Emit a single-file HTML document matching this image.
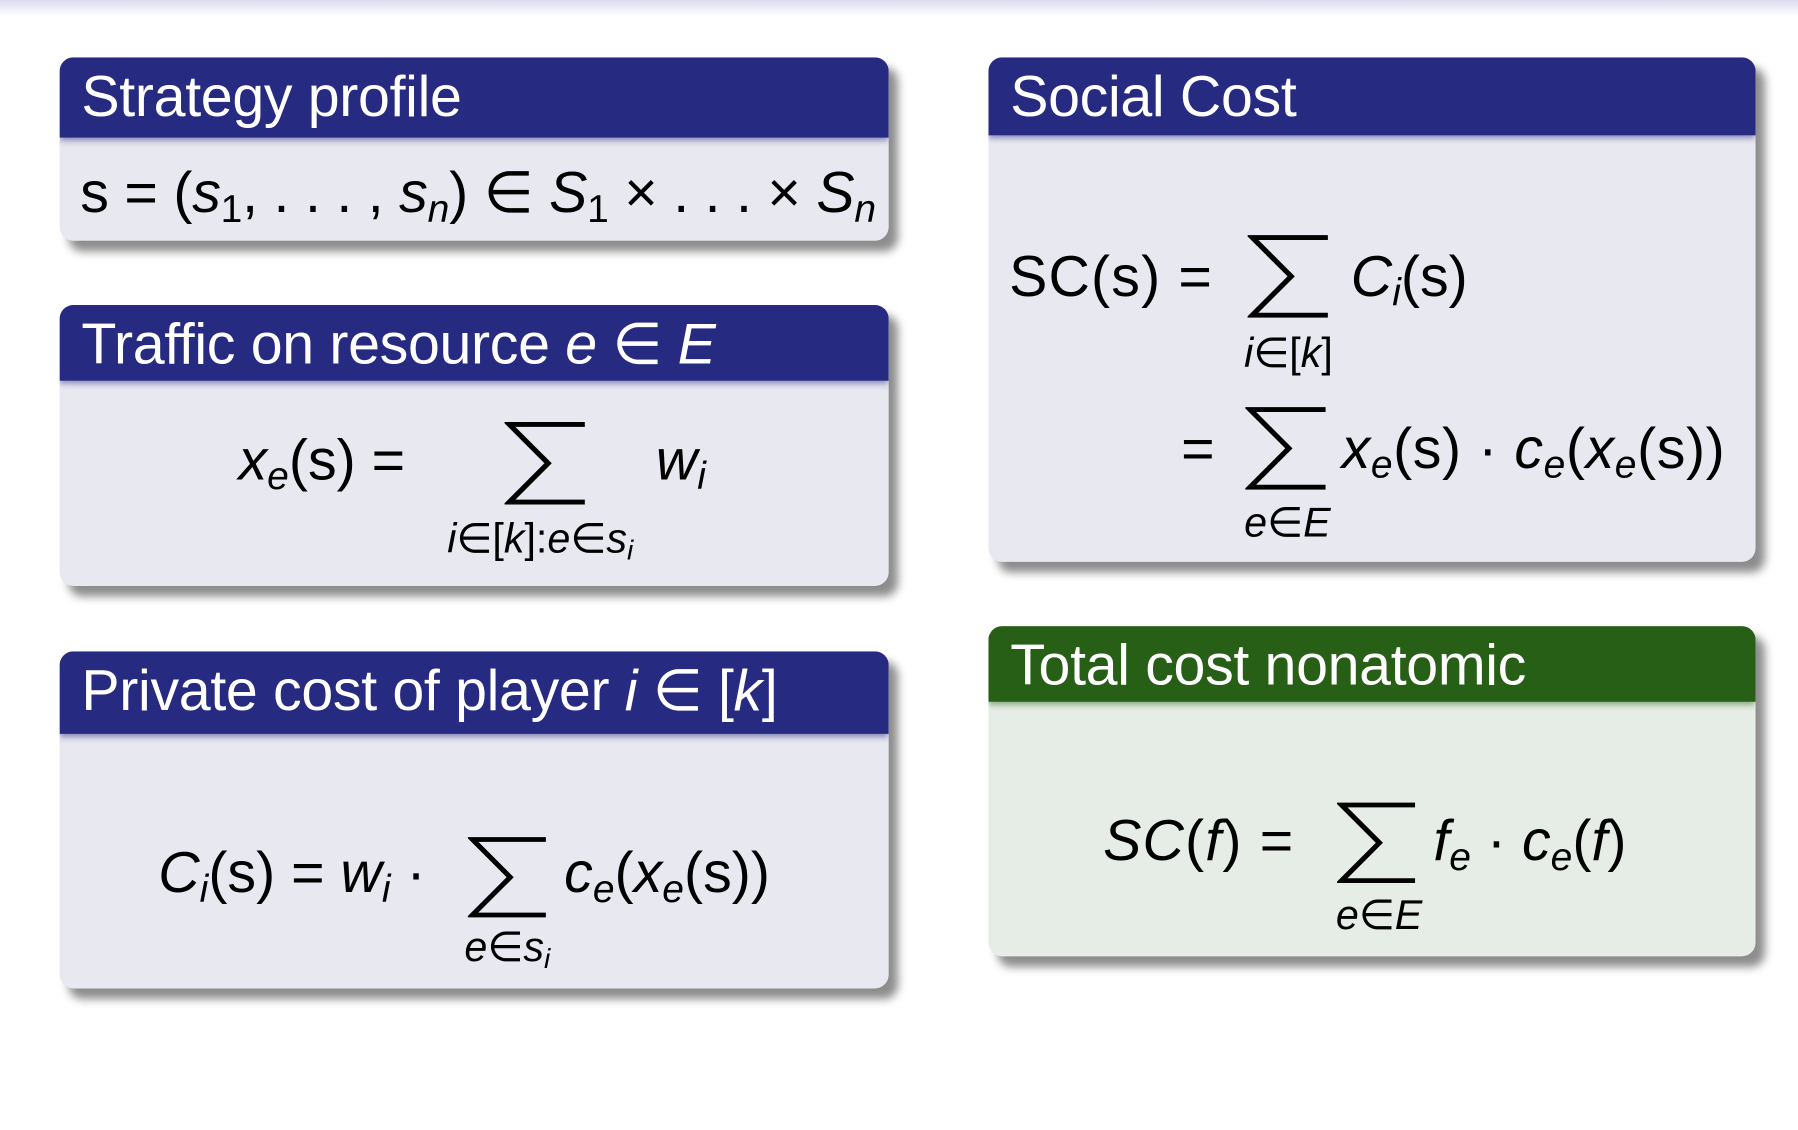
<!DOCTYPE html>
<html><head><meta charset="utf-8"><style>
html,body{margin:0;padding:0;background:#fff;overflow:hidden}
#wrap{position:relative;width:1798px;height:1130px;overflow:hidden;background:#fff}
#top{position:absolute;left:0;top:0;width:1798px;height:16px;background:linear-gradient(#dcdcee,#fff)}
#c{position:absolute;left:0;top:0;width:1568px;height:985px;transform:scale(1.14668);transform-origin:0 0;font-family:"Liberation Sans",Arial,sans-serif;color:#000}
.box{position:absolute;border-radius:12px;background:#e8e8f0;box-shadow:8px 9px 8px rgba(0,0,0,0.45);overflow:hidden}
.hd{position:absolute;left:0;top:0;right:0;background:#262a80;color:#fff;font-size:50px;line-height:1;box-shadow:0 3px 5px rgba(38,42,128,0.5)}
.hd span{position:absolute;left:19px;top:9px;white-space:nowrap;letter-spacing:-0.3px}
.g{background:#e6ede6}
.g .hd{background:#285f17;box-shadow:0 3px 5px rgba(40,95,23,0.5)}
.t{position:absolute;white-space:nowrap;font-size:50px;line-height:1}
.s{position:absolute;white-space:nowrap;font-size:36px;line-height:1}
.sum{position:absolute;width:72px;height:72px}
i{font-style:italic}
sub{font-size:0.68em;vertical-align:-0.25em;line-height:0}
</style></head><body><div id="wrap"><div id="top"></div><div id="c">

<div class="box" style="left:52px;top:50px;width:723px;height:160px"><div class="hd" style="height:70px"><span>Strategy profile</span></div></div>
<div class="t" style="left:70px;top:143px;letter-spacing:-0.2px">s = (<i>s</i><sub>1</sub>, . . . , <i>s<sub>n</sub></i>) ∈ <i>S</i><sub>1</sub> × . . . × <i>S<sub>n</sub></i></div>

<div class="box" style="left:52px;top:266px;width:723px;height:245px"><div class="hd" style="height:66px"><span>Traffic on resource <i>e</i> ∈ <i>E</i></span></div></div>
<div class="t" style="left:208px;top:376px"><i>x<sub>e</sub></i>(s) =</div>
<svg class="sum" style="left:440px;top:368px" viewBox="0 0 72 72"><path d="M70 2H4L38 36L4 70H70" fill="none" stroke="#000" stroke-width="4.5"/></svg>
<div class="t" style="left:572px;top:376px"><i>w<sub>i</sub></i></div>
<div class="s" style="left:390px;top:452px"><i>i</i>∈[<i>k</i>]:<i>e</i>∈<i>s<sub>i</sub></i></div>

<div class="box" style="left:52px;top:568px;width:723px;height:294px"><div class="hd" style="height:72px"><span>Private cost of player <i>i</i> ∈ [<i>k</i>]</span></div></div>
<div class="t" style="left:138px;top:736px"><i>C<sub>i</sub></i>(s) = <i>w<sub>i</sub></i> ·</div>
<svg class="sum" style="left:408px;top:730px;width:70px;height:70px" viewBox="0 0 72 72"><path d="M70 2H4L38 36L4 70H70" fill="none" stroke="#000" stroke-width="4.5"/></svg>
<div class="t" style="left:492px;top:736px"><i>c<sub>e</sub></i>(<i>x<sub>e</sub></i>(s))</div>
<div class="s" style="left:405px;top:808px"><i>e</i>∈<i>s<sub>i</sub></i></div>

<div class="box" style="left:862px;top:50px;width:669px;height:440px"><div class="hd" style="height:68px"><span>Social Cost</span></div></div>
<div class="t" style="left:880px;top:216px;letter-spacing:1px">SC(s) =</div>
<svg class="sum" style="left:1088px;top:205px" viewBox="0 0 72 72"><path d="M70 2H4L38 36L4 70H70" fill="none" stroke="#000" stroke-width="4.5"/></svg>
<div class="t" style="left:1178px;top:216px"><i>C<sub>i</sub></i>(s)</div>
<div class="s" style="left:1085px;top:290px"><i>i</i>∈[<i>k</i>]</div>
<div class="t" style="left:1030px;top:366px">=</div>
<svg class="sum" style="left:1086px;top:355px" viewBox="0 0 72 72"><path d="M70 2H4L38 36L4 70H70" fill="none" stroke="#000" stroke-width="4.5"/></svg>
<div class="t" style="left:1170px;top:366px;letter-spacing:0.5px"><i>x<sub>e</sub></i>(s) · <i>c<sub>e</sub></i>(<i>x<sub>e</sub></i>(s))</div>
<div class="s" style="left:1085px;top:438px"><i>e</i>∈<i>E</i></div>

<div class="box g" style="left:862px;top:546px;width:669px;height:288px"><div class="hd" style="height:66px"><span>Total cost nonatomic</span></div></div>
<div class="t" style="left:962px;top:708px;letter-spacing:1px"><i>SC</i>(<i>f</i>) =</div>
<svg class="sum" style="left:1166px;top:700px;width:70px;height:70px" viewBox="0 0 72 72"><path d="M70 2H4L38 36L4 70H70" fill="none" stroke="#000" stroke-width="4.5"/></svg>
<div class="t" style="left:1250px;top:708px"><i>f<sub>e</sub></i> · <i>c<sub>e</sub></i>(<i>f</i>)</div>
<div class="s" style="left:1165px;top:780px"><i>e</i>∈<i>E</i></div>

</div></div></body></html>
